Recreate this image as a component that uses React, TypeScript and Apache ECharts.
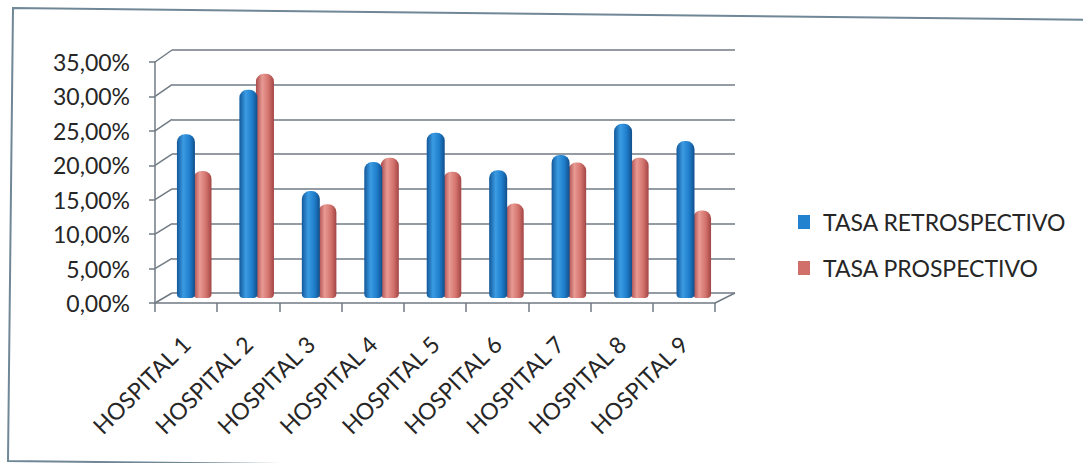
import React, { useEffect, useRef } from "react";
import * as echarts from "echarts";

const categories = [
  "HOSPITAL 1",
  "HOSPITAL 2",
  "HOSPITAL 3",
  "HOSPITAL 4",
  "HOSPITAL 5",
  "HOSPITAL 6",
  "HOSPITAL 7",
  "HOSPITAL 8",
  "HOSPITAL 9",
];
const seriesNames = ["TASA RETROSPECTIVO", "TASA PROSPECTIVO"];
const retrospectivo = [23.6, 30.0, 15.4, 19.6, 23.8, 18.4, 20.6, 25.1, 22.6];
const prospectivo = [18.3, 32.3, 13.5, 20.2, 18.2, 13.6, 19.5, 20.2, 12.6];
const yTicks = [0, 5, 10, 15, 20, 25, 30, 35];

const FONT = "Lato, 'Open Sans', sans-serif";
const LINE = "#707a84";
const TEXT = "#262626";

const FRONT = { left: 155, top: 62, width: 560, height: 241 };
const BACK = { left: 172, top: 50, width: 563, height: 243 };
const BARS = { left: 163, top: 55, width: 562, height: 243 };

const fmt = (v: number) => v.toFixed(2).replace(".", ",") + "%";

const blueGrad = new echarts.graphic.LinearGradient(0, 0, 1, 0, [
  { offset: 0, color: "#12589a" },
  { offset: 0.35, color: "#3b9be2" },
  { offset: 0.7, color: "#1f7ecb" },
  { offset: 1, color: "#114f8c" },
]);
const redGrad = new echarts.graphic.LinearGradient(0, 0, 1, 0, [
  { offset: 0, color: "#a9494a" },
  { offset: 0.35, color: "#e89a93" },
  { offset: 0.7, color: "#d3736d" },
  { offset: 1, color: "#a24545" },
]);

export default function App() {
  const ref = useRef<HTMLDivElement>(null);

  useEffect(() => {
    if (!ref.current) return;
    const chart = echarts.init(ref.current, undefined, { renderer: "svg" });
    const yMax = yTicks[yTicks.length - 1];
    const yStep = yTicks[1] - yTicks[0];
    chart.setOption({
      animation: false,
      backgroundColor: "#ffffff",
      grid: [
        { ...FRONT, containLabel: false },
        { ...BACK, containLabel: false },
        { ...BARS, containLabel: false },
      ],
      legend: {
        orient: "vertical",
        left: 798,
        top: 209,
        padding: 0,
        itemWidth: 12,
        itemHeight: 14,
        itemGap: 20,
        icon: "rect",
        textStyle: {
          fontFamily: FONT,
          fontSize: 23,
          color: TEXT,
          padding: [0, 0, 0, 8],
          lineHeight: 26,
        },
        data: [
          { name: seriesNames[0], itemStyle: { color: "#2382cf" } },
          { name: seriesNames[1], itemStyle: { color: "#d1706b" } },
        ],
      },
      xAxis: [
        {
          gridIndex: 0,
          type: "category",
          data: categories,
          axisLine: { show: true, lineStyle: { color: LINE, width: 1.5 } },
          axisTick: { show: true, length: 9, lineStyle: { color: LINE, width: 1.5 } },
          axisLabel: {
            rotate: 45,
            margin: 37,
            interval: 0,
            fontFamily: FONT,
            fontSize: 23,
            color: TEXT,
          },
          splitLine: { show: false },
        },
        { gridIndex: 1, type: "category", data: categories, show: false },
        { gridIndex: 2, type: "category", data: categories, show: false },
      ],
      yAxis: [
        {
          gridIndex: 0,
          type: "value",
          min: 0,
          max: yMax,
          interval: yStep,
          axisLine: { show: true, lineStyle: { color: LINE, width: 1.5 } },
          axisTick: { show: true, length: 6, lineStyle: { color: LINE, width: 1.5 } },
          axisLabel: {
            margin: 25,
            fontFamily: FONT,
            fontSize: 23,
            color: TEXT,
            formatter: (v: number) => fmt(v),
          },
          splitLine: { show: false },
        },
        {
          gridIndex: 1,
          type: "value",
          min: 0,
          max: yMax,
          interval: yStep,
          axisLine: { show: false },
          axisTick: { show: false },
          axisLabel: { show: false },
          splitLine: { show: true, lineStyle: { color: LINE, width: 1.5 } },
        },
        {
          gridIndex: 2,
          type: "value",
          min: 0,
          max: yMax,
          interval: yStep,
          show: false,
          splitLine: { show: false },
        },
      ],
      series: [
        {
          name: seriesNames[0],
          type: "bar",
          xAxisIndex: 2,
          yAxisIndex: 2,
          data: retrospectivo,
          barWidth: 18,
          barGap: "-8%",
          z: 3,
          itemStyle: { color: blueGrad, borderRadius: [8, 8, 4, 4] },
        },
        {
          name: seriesNames[1],
          type: "bar",
          xAxisIndex: 2,
          yAxisIndex: 2,
          data: prospectivo,
          barWidth: 18,
          z: 2,
          itemStyle: { color: redGrad, borderRadius: [8, 8, 4, 4] },
        },
      ],
    });

    const graphics: any[] = [];
    yTicks.forEach((v) => {
      const yF = chart.convertToPixel({ yAxisIndex: 0 }, v) as number;
      const yB = chart.convertToPixel({ yAxisIndex: 1 }, v) as number;
      graphics.push({
        type: "line",
        shape: { x1: FRONT.left, y1: yF, x2: BACK.left, y2: yB },
        style: { stroke: LINE, lineWidth: 1.5 },
        silent: true,
      });
    });
    const yF0 = chart.convertToPixel({ yAxisIndex: 0 }, 0) as number;
    const yB0 = chart.convertToPixel({ yAxisIndex: 1 }, 0) as number;
    graphics.push({
      type: "line",
      shape: {
        x1: FRONT.left + FRONT.width,
        y1: yF0,
        x2: BACK.left + BACK.width,
        y2: yB0,
      },
      style: { stroke: LINE, lineWidth: 1.5 },
      silent: true,
    });
    graphics.push({
      type: "polyline",
      shape: {
        points: [
          [1100, 20],
          [13, 8],
          [8, 461],
          [1100, 473],
        ],
      },
      style: { stroke: "#6f8796", lineWidth: 2, fill: null },
      silent: true,
    });
    chart.setOption({ graphic: graphics });

    return () => chart.dispose();
  }, []);

  return (
    <div
      ref={ref}
      style={{ position: "fixed", left: 0, top: 0, width: 1083, height: 463 }}
    />
  );
}
